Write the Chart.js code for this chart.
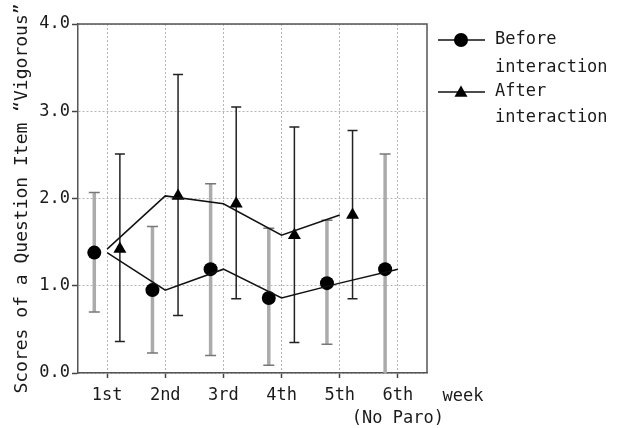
<!DOCTYPE html>
<html><head><meta charset="utf-8">
<script src="https://cdn.jsdelivr.net/npm/chart.js@4"></script>
<style>html,body{margin:0;padding:0;background:#fff}#wrap{width:619px;height:428px}</style>
</head><body><div id="wrap"><canvas id="c" width="619" height="428"></canvas></div>
<script>
const categories = ["1st", "2nd", "3rd", "4th", "5th", ["6th", "(No Paro)"]];
const yTicks = [0, 1, 2, 3, 4];
const beforeMean  = [1.38, 0.95, 1.19, 0.86, 1.03, 1.19];
const beforeUpper = [2.07, 1.68, 2.17, 1.66, 1.75, 2.51];
const beforeLower = [0.70, 0.23, 0.20, 0.09, 0.33, 0.00];
const afterMean   = [1.42, 2.03, 1.94, 1.58, 1.81];
const afterUpper  = [2.51, 3.42, 3.05, 2.82, 2.78];
const afterLower  = [0.36, 0.66, 0.85, 0.35, 0.85];
const seriesNames = [["Before", "interaction"], ["After", "interaction"]];
const xAxisTitle = "week";
const yAxisTitle = "Scores of a Question Item \u201CVigorous\u201D";

const OFFSET = 0.22;
const FONT = "'DejaVu Sans Mono', 'Liberation Mono', monospace";
const TXT = '#1a1a1a';

const centered = arr => arr.map((v, i) => ({x: i + 1, y: v}));
const shifted = (arr, d) => arr.map((v, i) => ({x: i + 1 + d, y: v}));

const extras = {
  id: 'extras',
  beforeDatasetsDraw(chart) {
    const {ctx, scales: {x, y}} = chart;
    const bars = (mean, lo, hi, d, color, w, capColor, capW) => {
      mean.forEach((m, i) => {
        const px = x.getPixelForValue(i + 1 + d);
        const top = y.getPixelForValue(hi[i]);
        const bot = y.getPixelForValue(lo[i]);
        ctx.save();
        ctx.strokeStyle = color; ctx.lineWidth = w;
        ctx.beginPath(); ctx.moveTo(px, top); ctx.lineTo(px, bot); ctx.stroke();
        ctx.strokeStyle = capColor; ctx.lineWidth = 1.5;
        ctx.beginPath();
        ctx.moveTo(px - capW / 2, top); ctx.lineTo(px + capW / 2, top);
        if (lo[i] > 0) { ctx.moveTo(px - capW / 2, bot); ctx.lineTo(px + capW / 2, bot); }
        ctx.stroke();
        ctx.restore();
      });
    };
    bars(beforeMean, beforeLower, beforeUpper, -OFFSET, '#ababab', 3.5, '#777', 11);
    bars(afterMean, afterLower, afterUpper, OFFSET, '#222', 1.5, '#222', 10);
  },
  afterDraw(chart) {
    const {ctx, chartArea: a} = chart;
    ctx.save();
    ctx.strokeStyle = '#555'; ctx.lineWidth = 1.5;
    ctx.beginPath();
    ctx.moveTo(a.left, a.top); ctx.lineTo(a.right, a.top); ctx.lineTo(a.right, a.bottom);
    ctx.stroke();
    ctx.fillStyle = TXT;
    ctx.font = '17px ' + FONT;
    ctx.textAlign = 'center'; ctx.textBaseline = 'middle';
    ctx.fillText(xAxisTitle, 463, 397);
    const styles = [
      {pointStyle: 'circle', radius: 7, rotation: 0},
      {pointStyle: 'triangle', radius: 7.5, rotation: 0}
    ];
    const ys = [[40, 68], [92, 118]];
    seriesNames.forEach((lines, k) => {
      const ly = ys[k][0];
      ctx.strokeStyle = '#111'; ctx.lineWidth = 1.5;
      ctx.beginPath(); ctx.moveTo(438, ly); ctx.lineTo(485, ly); ctx.stroke();
      ctx.fillStyle = '#000';
      Chart.helpers.drawPoint(ctx, styles[k], 461, k === 1 ? ly + 1 : ly);
      ctx.fillStyle = TXT;
      ctx.textAlign = 'left';
      lines.forEach((t, j) => ctx.fillText(t, 495, ys[k][j]));
    });
    ctx.restore();
  }
};

new Chart(document.getElementById('c'), {
  type: 'scatter',
  data: {
    datasets: [
      {label: 'Before line', data: centered(beforeMean), showLine: true, borderColor: '#111', borderWidth: 1.5, pointRadius: 0, fill: false},
      {label: 'After line', data: centered(afterMean), showLine: true, borderColor: '#111', borderWidth: 1.5, pointRadius: 0, fill: false},
      {label: seriesNames[0].join(' '), data: shifted(beforeMean, -OFFSET), showLine: false, pointStyle: 'circle', pointRadius: 7, backgroundColor: '#000', borderColor: '#000', borderWidth: 0},
      {label: seriesNames[1].join(' '), data: shifted(afterMean, OFFSET), showLine: false, pointStyle: 'triangle', pointRadius: 7.5, backgroundColor: '#000', borderColor: '#000', borderWidth: 0}
    ]
  },
  options: {
    responsive: false, animation: false, devicePixelRatio: 1,
    layout: {padding: {top: 24, right: 192, left: 0, bottom: 0}},
    plugins: {legend: {display: false}, tooltip: {enabled: false}},
    scales: {
      x: {
        type: 'linear', min: 0.5, max: 6.5,
        afterBuildTicks: s => { s.ticks = categories.map((c, i) => ({value: i + 1})); },
        afterFit: s => { s.height = 55; },
        ticks: {
          callback: v => categories[Math.round(v) - 1],
          font: {family: FONT, size: 17, lineHeight: 1.3}, color: TXT, padding: 7,
          maxRotation: 0, autoSkip: false
        },
        grid: {color: '#b5b5b5', lineWidth: 1, drawTicks: true, tickLength: 5, tickColor: '#444', tickBorderDash: [], tickWidth: 1.5},
        border: {color: '#555', width: 1.5, dash: [2, 2]}
      },
      y: {
        min: 0, max: 4,
        afterBuildTicks: s => { s.ticks = yTicks.map(v => ({value: v})); },
        afterFit: s => { s.width = 78; },
        ticks: {callback: v => v.toFixed(1), font: {family: FONT, size: 17}, color: TXT, padding: 2},
        grid: {color: '#b5b5b5', lineWidth: 1, drawTicks: true, tickLength: 6, tickColor: '#444', tickBorderDash: [], tickWidth: 1.5},
        border: {color: '#555', width: 1.5, dash: [2, 2]},
        title: {display: true, text: yAxisTitle, font: {family: FONT, size: 18}, color: TXT, padding: {top: 12, bottom: 0}}
      }
    }
  },
  plugins: [extras]
});
</script></body></html>
